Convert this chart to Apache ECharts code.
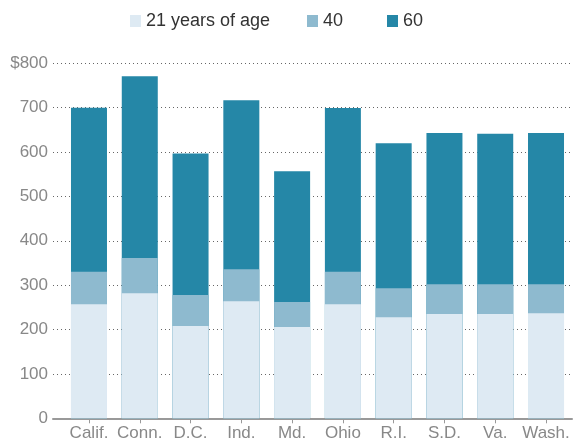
<!DOCTYPE html>
<html><head><meta charset="utf-8">
<script src="https://cdn.jsdelivr.net/npm/echarts@6/dist/echarts.min.js"></script>
<style>html,body{margin:0;padding:0;background:#fff}#c{width:574px;height:446px}</style>
</head><body><div id="c"></div>
<script>
const categories = ['Calif.', 'Conn.', 'D.C.', 'Ind.', 'Md.', 'Ohio', 'R.I.', 'S.D.', 'Va.', 'Wash.'];
const age21 = [257, 282, 208, 264, 206, 257, 228, 235, 235, 237];
const age40 = [330, 361, 278, 336, 262, 330, 293, 302, 302, 302];
const age60 = [700, 771, 597, 717, 557, 699, 620, 643, 641, 643];
const yTicks = [0, 100, 200, 300, 400, 500, 600, 700, 800];

const names = ['21 years of age', '40', '60'];
const colors = ['#deeaf3', '#8ebacf', '#2587a7'];
const font = 'Liberation Sans, Arial, sans-serif';

const chart = echarts.init(document.getElementById('c'), null, {renderer: 'canvas'});
const legendPos = [130, 307, 387];
chart.setOption({
  animation: false,
  color: colors,
  legend: names.map((n, i) => ({
    data: [n], left: legendPos[i], top: 10, padding: 0, itemWidth: 11, itemHeight: 12, itemGap: 4,
    icon: 'rect', textStyle: {fontFamily: font, fontSize: 18, lineHeight: 22, color: '#333', padding: [0, 0, 0, 0]}
  })),
  grid: [
    {left: 53, right: 2, top: 63.3, bottom: 27.7},
    {left: 63.6, right: 2.6, top: 63.3, bottom: 27.7}
  ],
  xAxis: [
    {gridIndex: 0, type: 'value', min: 0, max: 1, axisLine: {show: true, lineStyle: {color: '#999', width: 2}},
     axisTick: {show: false}, axisLabel: {show: false}, splitLine: {show: false}},
    {gridIndex: 1, type: 'category', data: categories, axisLine: {show: false},
     axisTick: {show: true, alignWithLabel: true, length: 5, lineStyle: {color: '#999', width: 1}},
     axisLabel: {fontFamily: font, fontSize: 17, color: '#888', margin: 7, interval: 0}}
  ],
  yAxis: [
    {gridIndex: 0, type: 'value', min: yTicks[0], max: yTicks[yTicks.length - 1], interval: 100,
     axisLine: {show: false}, axisTick: {show: false},
     axisLabel: {fontFamily: font, fontSize: 17, color: '#888', margin: 5,
       formatter: v => v === yTicks[yTicks.length - 1] ? '$' + v : String(v)},
     splitLine: {show: true, lineStyle: {color: '#666', type: [1, 3], width: 1}}},
    {gridIndex: 1, type: 'value', min: yTicks[0], max: yTicks[yTicks.length - 1], interval: 100, show: false,
     splitLine: {show: false}}
  ],
  series: [
    {name: '60', type: 'bar', xAxisIndex: 1, yAxisIndex: 1, data: age60, barWidth: 36, barGap: '-100%', itemStyle: {color: colors[2]}},
    {name: '40', type: 'bar', xAxisIndex: 1, yAxisIndex: 1, data: age40, barWidth: 36, barGap: '-100%', itemStyle: {color: colors[1]}},
    {name: '21 years of age', type: 'bar', xAxisIndex: 1, yAxisIndex: 1, data: age21, barWidth: 36, barGap: '-100%', itemStyle: {color: colors[0]}}
  ]
});
</script></body></html>
